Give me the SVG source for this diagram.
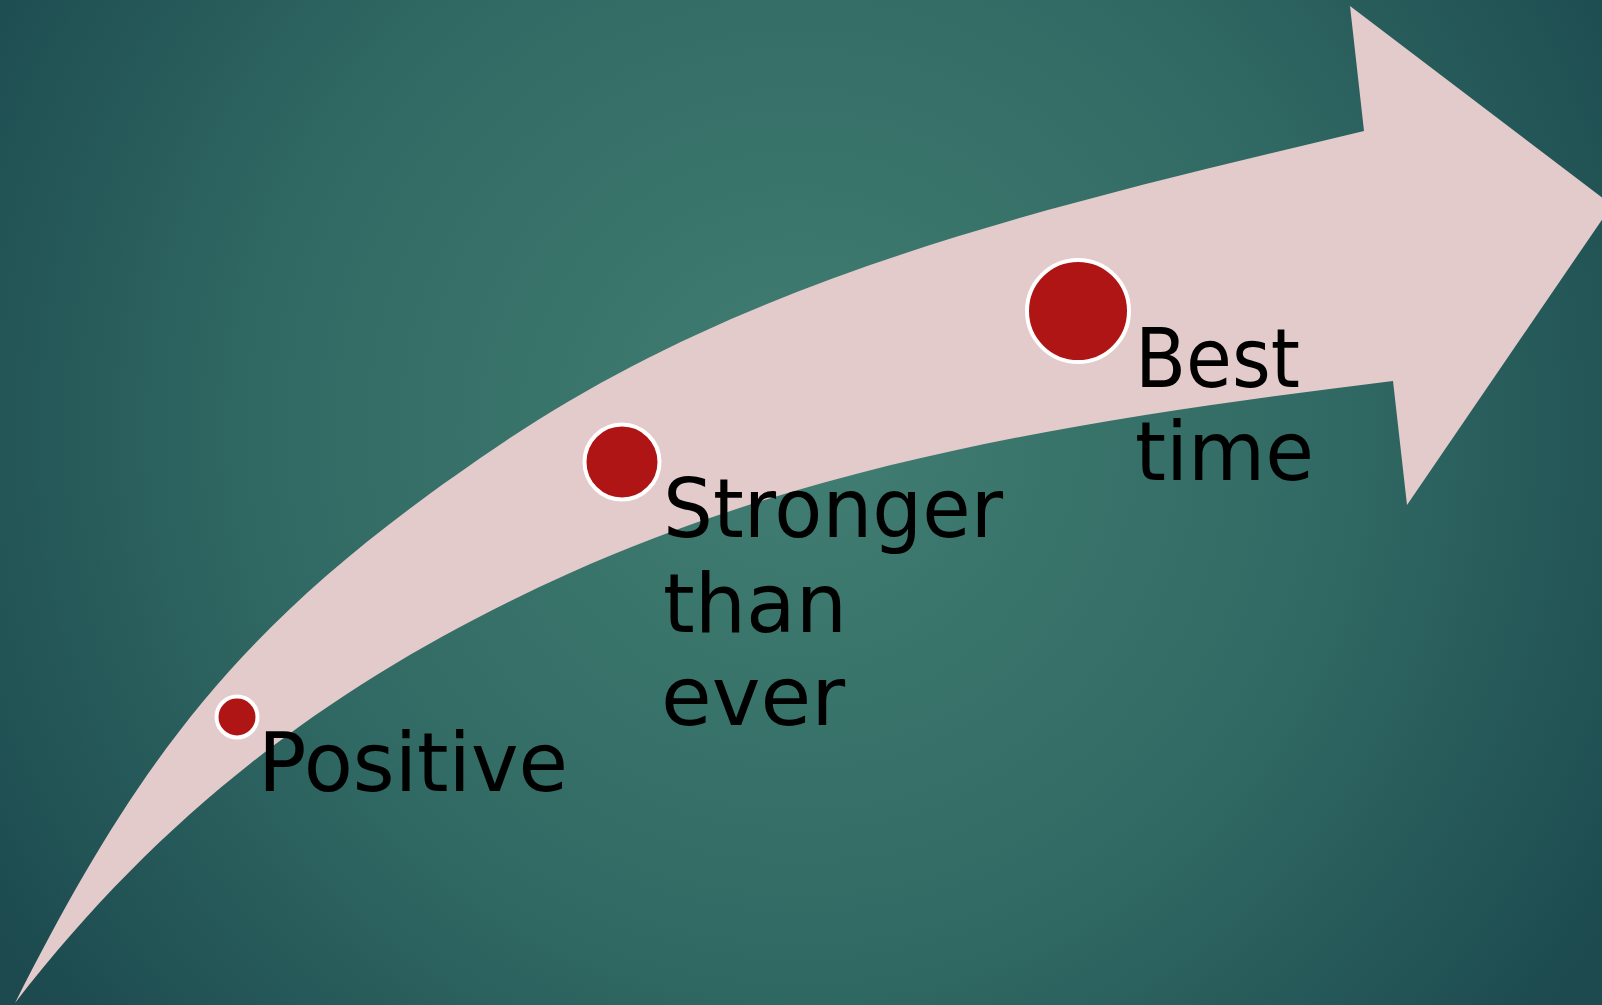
<svg xmlns="http://www.w3.org/2000/svg" width="1602" height="1005" viewBox="0 0 1602 1005">
  <defs>
    <radialGradient id="bg" gradientUnits="userSpaceOnUse" cx="800" cy="430" r="950">
      <stop offset="0" stop-color="#417e72"/>
      <stop offset="0.55" stop-color="#316a64"/>
      <stop offset="1" stop-color="#1c4a4f"/>
    </radialGradient>
  </defs>
  <style>
    .arrow { fill: #e3cbcb; }
    .dot { fill: #b01515; stroke: #ffffff; stroke-width: 4; }
    .label { font-family: "DejaVu Sans", "Liberation Sans", sans-serif; font-size: 82px; fill: #000000; }
  </style>
  <rect x="0" y="0" width="1602" height="1005" fill="url(#bg)"/>
  <g id="connectors">
    <path id="arrow" class="arrow" d="M15,1003
      C150,735.1 257.7,607.1 507,440
      C759.6,270.7 1068.5,201.8 1364,131
      L1350,6 L1612,205 L1407,505 L1393,381
      C1113,415.3 827.2,457.4 570,573
      C356.6,668.9 174,797 15,1003 Z"/>
  </g>
  <g id="node-positive">
    <circle class="dot" cx="237" cy="717" r="20.5"/>
    <text class="label" x="258" y="791" textLength="310" lengthAdjust="spacingAndGlyphs">Positive</text>
  </g>
  <g id="node-stronger">
    <circle class="dot" cx="622" cy="462" r="37.5"/>
    <text class="label" x="663" y="537" textLength="340" lengthAdjust="spacingAndGlyphs">Stronger</text>
    <text class="label" x="663" y="632" textLength="184" lengthAdjust="spacingAndGlyphs">than</text>
    <text class="label" x="661" y="725" textLength="184" lengthAdjust="spacingAndGlyphs">ever</text>
  </g>
  <g id="node-best">
    <circle class="dot" cx="1078" cy="311" r="51"/>
    <text class="label" x="1135" y="387" textLength="165" lengthAdjust="spacingAndGlyphs">Best</text>
    <text class="label" x="1135" y="480" textLength="179" lengthAdjust="spacingAndGlyphs">time</text>
  </g>
</svg>
